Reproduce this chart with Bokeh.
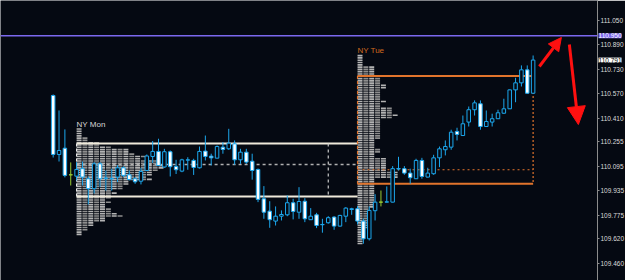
from bokeh.plotting import figure
from bokeh.models import (ColumnDataSource, Range1d, FixedTicker, PrintfTickFormatter,
                          Span, Label, Arrow, NormalHead)
from bokeh.core.properties import value
from bokeh.embed import file_html
from bokeh.resources import INLINE

# ---------------- data ----------------
opens = [110.559, 110.173, 110.214, 110.040, 110.031, 110.080, 110.014, 109.949, 110.112, 110.016,
         110.013, 110.025, 110.086, 110.040, 110.014, 109.998, 110.068, 110.160, 110.193, 110.091,
         110.191, 110.095, 110.064, 110.136, 110.134, 110.086, 110.195, 110.162, 110.149, 110.221,
         110.210, 110.243, 110.138, 110.188, 110.129, 110.075, 109.883, 109.802, 109.737, 109.769,
         109.778, 109.857, 109.795, 109.867, 109.746, 109.778, 109.715, 109.726, 109.763, 109.704,
         109.769, 109.813, 109.818, 109.737, 109.621, 109.805, 109.861, 109.861, 109.861, 110.078,
         110.080, 110.051, 110.014, 110.134, 110.025, 110.047, 110.151, 110.204, 110.221, 110.324,
         110.297, 110.385, 110.466, 110.505, 110.356, 110.385, 110.407, 110.443, 110.472, 110.596,
         110.642, 110.727, 110.574]
highs = [110.566, 110.461, 110.337, 110.121, 110.123, 110.127, 110.029, 110.123, 110.123, 110.068,
         110.080, 110.104, 110.095, 110.068, 110.025, 110.086, 110.173, 110.261, 110.276, 110.210,
         110.199, 110.138, 110.145, 110.155, 110.145, 110.225, 110.297, 110.178, 110.232, 110.254,
         110.341, 110.265, 110.210, 110.210, 110.178, 110.081, 109.966, 109.867, 109.833, 109.807,
         109.905, 109.883, 109.959, 109.887, 109.822, 109.791, 109.752, 109.769, 109.769, 109.778,
         109.828, 109.824, 109.835, 109.754, 109.833, 109.913, 109.937, 109.964, 110.097, 110.158,
         110.097, 110.080, 110.145, 110.151, 110.086, 110.171, 110.225, 110.265, 110.335, 110.348,
         110.428, 110.487, 110.527, 110.527, 110.461, 110.440, 110.466, 110.538, 110.598, 110.675,
         110.756, 110.756, 110.821]
lows = [110.153, 110.127, 110.023, 109.970, 110.003, 109.970, 109.846, 109.918, 109.959, 109.937,
        109.937, 109.992, 110.025, 110.003, 109.981, 109.977, 110.064, 110.117, 110.098, 110.086,
        110.029, 110.045, 110.057, 110.073, 110.039, 110.081, 110.134, 110.101, 110.149, 110.178,
        110.204, 110.106, 110.112, 110.112, 110.008, 109.861, 109.752, 109.693, 109.708, 109.741,
        109.769, 109.748, 109.752, 109.730, 109.744, 109.691, 109.661, 109.720, 109.680, 109.702,
        109.730, 109.778, 109.715, 109.589, 109.610, 109.741, 109.833, 109.859, 109.859, 110.068,
        110.040, 109.981, 110.013, 110.014, 110.023, 110.040, 110.090, 110.167, 110.204, 110.265,
        110.297, 110.356, 110.428, 110.335, 110.353, 110.356, 110.405, 110.440, 110.471, 110.515,
        110.618, 110.570, 110.574]
closes = [110.173, 110.199, 110.036, 110.040, 110.075, 110.025, 109.949, 110.112, 110.014, 110.019,
          110.016, 110.086, 110.036, 110.009, 109.994, 110.062, 110.163, 110.193, 110.101, 110.191,
          110.093, 110.073, 110.138, 110.138, 110.088, 110.193, 110.160, 110.151, 110.225, 110.206,
          110.247, 110.138, 110.188, 110.123, 110.068, 109.879, 109.795, 109.746, 109.769, 109.780,
          109.857, 109.800, 109.865, 109.752, 109.769, 109.708, 109.713, 109.759, 109.704, 109.774,
          109.822, 109.818, 109.737, 109.621, 109.807, 109.861, 109.861, 109.863, 110.080, 110.081,
          110.051, 110.021, 110.134, 110.029, 110.051, 110.151, 110.210, 110.225, 110.319, 110.304,
          110.374, 110.466, 110.511, 110.356, 110.389, 110.407, 110.446, 110.472, 110.596, 110.642,
          110.727, 110.574, 110.791]

# session profiles (TPO counts per price row, top row first)
mon_start, mon_end = 4, 52
mon_top, mon_step = 110.340, 0.015
mon_counts = [1, 1, 1, 1, 2, 2, 4, 4, 6, 9, 9, 10, 12, 11, 14, 14, 15, 15, 14, 13, 13, 12, 13,
              9, 9, 8, 8, 6, 7, 6, 6, 5, 6, 5, 5, 6, 6, 7, 8, 5, 5, 3, 3, 2, 2, 1, 1]
tue_start, tue_end = 52, 82
tue_top, tue_step = 110.820, 0.015
tue_counts = [1, 1, 1, 1, 1, 3, 3, 3, 3, 4, 4, 4, 4, 5, 5, 4, 4, 4, 4, 4, 5, 4, 4,
              6, 6, 6, 7, 6, 4, 4, 4, 4, 4, 4, 4, 4, 4, 3, 3, 3, 3, 4, 4, 3, 3,
              5, 5, 5, 5, 5, 5, 7, 7, 7, 3, 3, 3, 3, 3, 3, 3, 3, 3, 3, 3, 3, 3,
              2, 2, 2, 2, 2, 2, 2, 2, 2, 1, 1, 1, 1, 1, 1, 1]

mon_vah, mon_poc, mon_val, mon_mark = 110.245, 110.108, 109.898, 47
tue_vah, tue_poc, tue_val, tue_mark = 110.686, 110.073, 109.981, 82
alert_level = 110.950
last_price = 110.791

axis_ticks = [111.050, 110.890, 110.730, 110.570, 110.410, 110.255, 110.095,
              109.935, 109.775, 109.620, 109.460]

arrow_x0 = [83.07, 88.19]
arrow_y0 = [110.749, 110.893]
arrow_x1 = [86.83, 89.73]
arrow_y1 = [110.939, 110.369]

# ---------------- styling ----------------
BG = "#050912"
CANDLE = "#1ca8ee"
DOJI = "#9acd32"
MON_COL = "#efeadb"
TUE_COL = "#e2742c"
AXIS_FONT = "Liberation Sans"

# the two price tags live in their own side panels past the visible 625 px;
# they are drawn (in canvas units) over the axis strip at x = 598
p = figure(width=672, height=280, output_backend="svg", toolbar_location=None,
           x_range=Range1d(-9.0, 93.0), y_range=Range1d(109.348, 111.181),
           y_axis_location="right", min_border=0, min_border_right=0)
p.background_fill_color = BG
p.border_fill_color = BG
p.outline_line_color = None
p.xaxis.visible = False
p.grid.visible = False

ax = p.yaxis[0]
ax.ticker = FixedTicker(ticks=axis_ticks)
ax.formatter = PrintfTickFormatter(format="%.3f")
ax.axis_line_color = "#8c8c8c"
ax.major_tick_line_color = "#8c8c8c"
ax.major_tick_out = 2
ax.major_tick_in = 0
ax.minor_tick_line_color = None
ax.major_label_standoff = 1
ax.major_label_text_color = "#dcdcdc"
ax.major_label_text_font = AXIS_FONT
ax.major_label_text_font_size = "6.5px"


# ---------------- profiles ----------------
def profile_source(start, top, step, counts):
    L, R, T, B, C = [], [], [], [], []
    for k, n in enumerate(counts):
        yc = top - step * k
        for j in range(n):
            L.append(start + j)
            R.append(start + j + 0.85)
            T.append(yc + step * 0.36)
            B.append(yc - step * 0.36)
            C.append("#b3b3b3" if j % 2 == 0 else "#8e8e8e")
    return ColumnDataSource(dict(left=L, right=R, top=T, bottom=B, color=C))


for start, top, step, counts in [(mon_start, mon_top, mon_step, mon_counts),
                                 (tue_start, tue_top, tue_step, tue_counts)]:
    p.quad(left="left", right="right", top="top", bottom="bottom", fill_color="color",
           line_color=None, source=profile_source(start, top, step, counts))

# ---------------- levels ----------------
p.segment(x0=[mon_start, mon_start], x1=[mon_end, mon_end], y0=[mon_vah, mon_val],
          y1=[mon_vah, mon_val], line_color=MON_COL, line_width=2)
p.segment(x0=[mon_start], x1=[mon_end], y0=[mon_poc], y1=[mon_poc],
          line_color="#b0b0b0", line_width=1.5, line_dash="3 3")
p.segment(x0=[mon_mark], x1=[mon_mark], y0=[mon_vah], y1=[mon_val],
          line_color="#c8c8c8", line_width=1.2, line_dash="3 3")
p.segment(x0=[mon_start], x1=[mon_start], y0=[mon_vah], y1=[mon_val],
          line_color="#e8e8e8", line_width=1.2, line_dash="3 2")

p.segment(x0=[tue_start, tue_start], x1=[tue_end, tue_end], y0=[tue_vah, tue_val],
          y1=[tue_vah, tue_val], line_color=TUE_COL, line_width=2)
p.segment(x0=[tue_start], x1=[tue_end], y0=[tue_poc], y1=[tue_poc],
          line_color=TUE_COL, line_width=1.2, line_dash="2 3")
p.segment(x0=[tue_mark], x1=[tue_mark], y0=[tue_vah], y1=[tue_val],
          line_color=TUE_COL, line_width=1.2, line_dash="2 2")
p.segment(x0=[tue_start], x1=[tue_start], y0=[tue_vah], y1=[tue_val],
          line_color=TUE_COL, line_width=1.2, line_dash="3 2")

p.add_layout(Span(location=alert_level, dimension="width", line_color="#7b68ee", line_width=1.5))

# ---------------- candles ----------------
idx = list(range(len(opens)))
tops = [max(o, c) for o, c in zip(opens, closes)]
bots = [min(o, c) for o, c in zip(opens, closes)]
fills = [("#ffffff" if c < o else BG) for o, c in zip(opens, closes)]
lcol = [(DOJI if c == o else CANDLE) for o, c in zip(opens, closes)]
cs = ColumnDataSource(dict(x=idx, h=highs, l=lows, top=tops, bottom=bots, fill=fills, line=lcol))
p.segment(x0="x", x1="x", y0="h", y1="l", line_color="line", line_width=1, source=cs)
p.vbar(x="x", width=0.6, top="top", bottom="bottom", fill_color="fill", line_color="line",
       line_width=1, source=cs)

# ---------------- texts ----------------
p.text(x=[mon_start], y=[mon_top], text=["NY Mon"], text_font=value("Liberation Sans"),
       text_font_size="8px", text_color="#d8d8d8", text_baseline="bottom", y_offset=0)
p.text(x=[tue_start], y=[tue_top], text=["NY Tue"], text_font=value("Liberation Sans"),
       text_font_size="8px", text_color="#d2691e", text_baseline="bottom", y_offset=-1)

# ---------------- arrows ----------------
for x0, y0, x1, y1, sz in zip(arrow_x0, arrow_y0, arrow_x1, arrow_y1, [13, 18]):
    p.add_layout(Arrow(x_start=x0, y_start=y0, x_end=x1, y_end=y1, line_color="#ff1010",
                       line_width=3,
                       end=NormalHead(size=sz, fill_color="#ff1010", line_color="#ff1010")))

# ---------------- price tags on the axis ----------------
for lvl, txt, fg, bg in [(alert_level, "110.950", "#ffffff", "#7b68ee"),
                         (last_price, "110.791", "#000000", "#ffffff")]:
    p.add_layout(Label(x=598, x_units="canvas", y=lvl, text=txt, text_color=fg,
                       text_font=AXIS_FONT, text_font_size="6.5px", text_baseline="middle",
                       background_fill_color=bg), "right")

open("out.html", "w").write(file_html(p, INLINE))
